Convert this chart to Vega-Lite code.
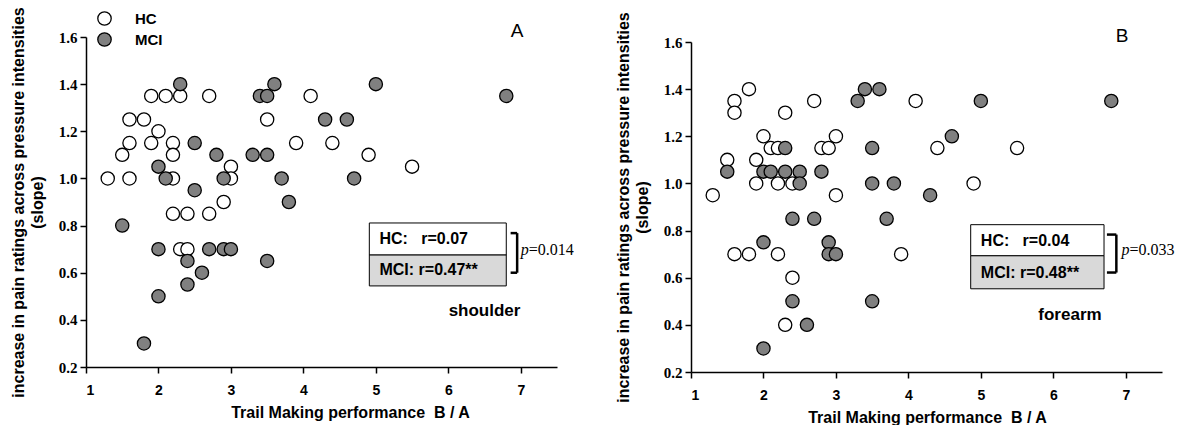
{
  "$schema": "https://vega.github.io/schema/vega-lite/v6.json",
  "padding": {"left": 10, "top": 6, "right": 0, "bottom": 0},
  "background": "white",
  "datasets": {
    "pts": [
      {"panel": "A", "group": "HC", "tmt": 1.3, "slope": 1.0},
      {"panel": "A", "group": "HC", "tmt": 1.6, "slope": 1.0},
      {"panel": "A", "group": "HC", "tmt": 1.5, "slope": 1.1},
      {"panel": "A", "group": "HC", "tmt": 1.6, "slope": 1.15},
      {"panel": "A", "group": "HC", "tmt": 1.6, "slope": 1.25},
      {"panel": "A", "group": "HC", "tmt": 1.8, "slope": 1.25},
      {"panel": "A", "group": "HC", "tmt": 1.9, "slope": 1.15},
      {"panel": "A", "group": "HC", "tmt": 2.0, "slope": 1.2},
      {"panel": "A", "group": "HC", "tmt": 1.9, "slope": 1.35},
      {"panel": "A", "group": "HC", "tmt": 2.1, "slope": 1.35},
      {"panel": "A", "group": "HC", "tmt": 2.3, "slope": 1.35},
      {"panel": "A", "group": "HC", "tmt": 2.7, "slope": 1.35},
      {"panel": "A", "group": "HC", "tmt": 2.2, "slope": 1.15},
      {"panel": "A", "group": "HC", "tmt": 2.2, "slope": 1.1},
      {"panel": "A", "group": "HC", "tmt": 2.2, "slope": 1.0},
      {"panel": "A", "group": "HC", "tmt": 3.0, "slope": 1.05},
      {"panel": "A", "group": "HC", "tmt": 3.0, "slope": 1.0},
      {"panel": "A", "group": "HC", "tmt": 3.5, "slope": 1.25},
      {"panel": "A", "group": "HC", "tmt": 3.9, "slope": 1.15},
      {"panel": "A", "group": "HC", "tmt": 4.1, "slope": 1.35},
      {"panel": "A", "group": "HC", "tmt": 4.4, "slope": 1.15},
      {"panel": "A", "group": "HC", "tmt": 4.9, "slope": 1.1},
      {"panel": "A", "group": "HC", "tmt": 5.5, "slope": 1.05},
      {"panel": "A", "group": "HC", "tmt": 2.2, "slope": 0.85},
      {"panel": "A", "group": "HC", "tmt": 2.4, "slope": 0.85},
      {"panel": "A", "group": "HC", "tmt": 2.7, "slope": 0.85},
      {"panel": "A", "group": "HC", "tmt": 2.9, "slope": 0.9},
      {"panel": "A", "group": "HC", "tmt": 2.3, "slope": 0.7},
      {"panel": "A", "group": "HC", "tmt": 2.4, "slope": 0.7},
      {"panel": "A", "group": "MCI", "tmt": 2.3, "slope": 1.4},
      {"panel": "A", "group": "MCI", "tmt": 2.0, "slope": 1.05},
      {"panel": "A", "group": "MCI", "tmt": 2.1, "slope": 1.0},
      {"panel": "A", "group": "MCI", "tmt": 2.5, "slope": 1.15},
      {"panel": "A", "group": "MCI", "tmt": 2.5, "slope": 0.95},
      {"panel": "A", "group": "MCI", "tmt": 2.8, "slope": 1.1},
      {"panel": "A", "group": "MCI", "tmt": 2.9, "slope": 1.0},
      {"panel": "A", "group": "MCI", "tmt": 3.3, "slope": 1.1},
      {"panel": "A", "group": "MCI", "tmt": 3.5, "slope": 1.1},
      {"panel": "A", "group": "MCI", "tmt": 3.4, "slope": 1.35},
      {"panel": "A", "group": "MCI", "tmt": 3.5, "slope": 1.35},
      {"panel": "A", "group": "MCI", "tmt": 3.6, "slope": 1.4},
      {"panel": "A", "group": "MCI", "tmt": 3.7, "slope": 1.0},
      {"panel": "A", "group": "MCI", "tmt": 3.8, "slope": 0.9},
      {"panel": "A", "group": "MCI", "tmt": 4.3, "slope": 1.25},
      {"panel": "A", "group": "MCI", "tmt": 4.6, "slope": 1.25},
      {"panel": "A", "group": "MCI", "tmt": 4.7, "slope": 1.0},
      {"panel": "A", "group": "MCI", "tmt": 5.0, "slope": 1.4},
      {"panel": "A", "group": "MCI", "tmt": 6.8, "slope": 1.35},
      {"panel": "A", "group": "MCI", "tmt": 1.5, "slope": 0.8},
      {"panel": "A", "group": "MCI", "tmt": 2.0, "slope": 0.7},
      {"panel": "A", "group": "MCI", "tmt": 2.4, "slope": 0.65},
      {"panel": "A", "group": "MCI", "tmt": 2.6, "slope": 0.6},
      {"panel": "A", "group": "MCI", "tmt": 2.4, "slope": 0.55},
      {"panel": "A", "group": "MCI", "tmt": 2.7, "slope": 0.7},
      {"panel": "A", "group": "MCI", "tmt": 2.9, "slope": 0.7},
      {"panel": "A", "group": "MCI", "tmt": 3.0, "slope": 0.7},
      {"panel": "A", "group": "MCI", "tmt": 2.0, "slope": 0.5},
      {"panel": "A", "group": "MCI", "tmt": 1.8, "slope": 0.3},
      {"panel": "A", "group": "MCI", "tmt": 3.5, "slope": 0.65},
      {"panel": "B", "group": "HC", "tmt": 1.3, "slope": 0.95},
      {"panel": "B", "group": "HC", "tmt": 1.5, "slope": 1.1},
      {"panel": "B", "group": "HC", "tmt": 1.6, "slope": 1.35},
      {"panel": "B", "group": "HC", "tmt": 1.6, "slope": 1.3},
      {"panel": "B", "group": "HC", "tmt": 1.8, "slope": 1.4},
      {"panel": "B", "group": "HC", "tmt": 1.9, "slope": 1.1},
      {"panel": "B", "group": "HC", "tmt": 1.9, "slope": 1.0},
      {"panel": "B", "group": "HC", "tmt": 2.0, "slope": 1.2},
      {"panel": "B", "group": "HC", "tmt": 2.1, "slope": 1.15},
      {"panel": "B", "group": "HC", "tmt": 2.2, "slope": 1.15},
      {"panel": "B", "group": "HC", "tmt": 2.2, "slope": 1.0},
      {"panel": "B", "group": "HC", "tmt": 2.3, "slope": 1.3},
      {"panel": "B", "group": "HC", "tmt": 2.4, "slope": 1.0},
      {"panel": "B", "group": "HC", "tmt": 2.7, "slope": 1.35},
      {"panel": "B", "group": "HC", "tmt": 2.8, "slope": 1.15},
      {"panel": "B", "group": "HC", "tmt": 2.9, "slope": 1.15},
      {"panel": "B", "group": "HC", "tmt": 3.0, "slope": 1.2},
      {"panel": "B", "group": "HC", "tmt": 3.0, "slope": 0.95},
      {"panel": "B", "group": "HC", "tmt": 4.1, "slope": 1.35},
      {"panel": "B", "group": "HC", "tmt": 4.4, "slope": 1.15},
      {"panel": "B", "group": "HC", "tmt": 5.5, "slope": 1.15},
      {"panel": "B", "group": "HC", "tmt": 4.9, "slope": 1.0},
      {"panel": "B", "group": "HC", "tmt": 1.6, "slope": 0.7},
      {"panel": "B", "group": "HC", "tmt": 1.8, "slope": 0.7},
      {"panel": "B", "group": "HC", "tmt": 2.2, "slope": 0.7},
      {"panel": "B", "group": "HC", "tmt": 2.4, "slope": 0.6},
      {"panel": "B", "group": "HC", "tmt": 2.3, "slope": 0.4},
      {"panel": "B", "group": "HC", "tmt": 3.9, "slope": 0.7},
      {"panel": "B", "group": "MCI", "tmt": 1.5, "slope": 1.05},
      {"panel": "B", "group": "MCI", "tmt": 2.0, "slope": 1.05},
      {"panel": "B", "group": "MCI", "tmt": 2.1, "slope": 1.05},
      {"panel": "B", "group": "MCI", "tmt": 2.3, "slope": 1.05},
      {"panel": "B", "group": "MCI", "tmt": 2.5, "slope": 1.05},
      {"panel": "B", "group": "MCI", "tmt": 2.5, "slope": 1.0},
      {"panel": "B", "group": "MCI", "tmt": 2.3, "slope": 1.15},
      {"panel": "B", "group": "MCI", "tmt": 2.8, "slope": 1.05},
      {"panel": "B", "group": "MCI", "tmt": 3.3, "slope": 1.35},
      {"panel": "B", "group": "MCI", "tmt": 3.4, "slope": 1.4},
      {"panel": "B", "group": "MCI", "tmt": 3.6, "slope": 1.4},
      {"panel": "B", "group": "MCI", "tmt": 3.5, "slope": 1.15},
      {"panel": "B", "group": "MCI", "tmt": 3.5, "slope": 1.0},
      {"panel": "B", "group": "MCI", "tmt": 3.8, "slope": 1.0},
      {"panel": "B", "group": "MCI", "tmt": 4.3, "slope": 0.95},
      {"panel": "B", "group": "MCI", "tmt": 2.4, "slope": 0.85},
      {"panel": "B", "group": "MCI", "tmt": 2.7, "slope": 0.85},
      {"panel": "B", "group": "MCI", "tmt": 3.7, "slope": 0.85},
      {"panel": "B", "group": "MCI", "tmt": 4.6, "slope": 1.2},
      {"panel": "B", "group": "MCI", "tmt": 5.0, "slope": 1.35},
      {"panel": "B", "group": "MCI", "tmt": 6.8, "slope": 1.35},
      {"panel": "B", "group": "MCI", "tmt": 2.0, "slope": 0.75},
      {"panel": "B", "group": "MCI", "tmt": 2.9, "slope": 0.75},
      {"panel": "B", "group": "MCI", "tmt": 2.9, "slope": 0.7},
      {"panel": "B", "group": "MCI", "tmt": 3.0, "slope": 0.7},
      {"panel": "B", "group": "MCI", "tmt": 2.4, "slope": 0.5},
      {"panel": "B", "group": "MCI", "tmt": 2.6, "slope": 0.4},
      {"panel": "B", "group": "MCI", "tmt": 2.0, "slope": 0.3},
      {"panel": "B", "group": "MCI", "tmt": 3.5, "slope": 0.5}
    ],
    "one": [{}]
  },
  "bounds": "flush",
  "spacing": 134,
  "resolve": {"legend": {"color": "independent"}},
  "hconcat": [
    {
      "width": 471,
      "height": 330,
      "layer": [
        {
          "data": {"name": "pts"},
          "transform": [{"filter": "datum.panel === 'A'"}],
          "mark": {"type": "point", "filled": true, "size": 175, "stroke": "black", "strokeWidth": 1.3, "opacity": 1},
          "encoding": {
            "x": {"field": "tmt", "type": "quantitative", "scale": {"domain": [1, 7.5], "nice": false, "zero": false},
              "axis": {"values": [1, 2, 3, 4, 5, 6, 7], "format": "d", "title": "Trail Making performance\u00a0\u00a0B / A", "titleX": 264, "titleY": 50, "titleBaseline": "alphabetic"}},
            "y": {"field": "slope", "type": "quantitative", "scale": {"domain": [0.2, 1.6], "nice": false, "zero": false},
              "axis": {"values": [0.2, 0.4, 0.6, 0.8, 1.0, 1.2, 1.4, 1.6], "format": ".1f", "title": ["increase in pain ratings across pressure intensities", "(slope)"]}},
            "color": {"field": "group", "type": "nominal", "scale": {"domain": ["HC", "MCI"], "range": ["white", "#808080"]},
              "legend": {"title": null, "orient": "none", "legendX": 11, "legendY": -26, "padding": 0, "symbolType": "circle", "symbolSize": 180, "symbolStrokeColor": "black", "symbolStrokeWidth": 1.3, "symbolOpacity": 1, "labelFont": "Liberation Sans", "labelFontWeight": "bold", "labelFontSize": 15, "labelColor": "black", "labelOffset": 23, "rowPadding": 2}}
          }
        },
        {
          "data": {"name": "one"},
          "mark": {"type": "rect", "fill": "white", "stroke": "black", "strokeWidth": 1},
          "encoding": {"x": {"datum": 4.91}, "x2": {"datum": 6.8}, "y": {"datum": 0.811}, "y2": {"datum": 0.675}}
        },
        {
          "data": {"name": "one"},
          "mark": {"type": "rect", "fill": "#d9d9d9", "stroke": "black", "strokeWidth": 1},
          "encoding": {"x": {"datum": 4.91}, "x2": {"datum": 6.8}, "y": {"datum": 0.675}, "y2": {"datum": 0.544}}
        },
        {
          "data": {"name": "one"},
          "mark": {"type": "text", "align": "left", "baseline": "middle", "font": "Liberation Sans", "fontWeight": "bold", "fontSize": 16, "color": "black"},
          "encoding": {"x": {"datum": 5.05}, "y": {"datum": 0.743}, "text": {"value": "HC:\u00a0\u00a0\u00a0r=0.07"}}
        },
        {
          "data": {"name": "one"},
          "mark": {"type": "text", "align": "left", "baseline": "middle", "font": "Liberation Sans", "fontWeight": "bold", "fontSize": 16, "color": "black"},
          "encoding": {"x": {"datum": 5.05}, "y": {"datum": 0.611}, "text": {"value": "MCI: r=0.47**"}}
        },
        {
          "data": {"name": "one"},
          "mark": {"type": "rule", "stroke": "black", "strokeWidth": 2.5},
          "encoding": {"x": {"datum": 6.95}, "y": {"datum": 0.768}, "y2": {"datum": 0.6}}
        },
        {
          "data": {"name": "one"},
          "mark": {"type": "rule", "stroke": "black", "strokeWidth": 2.5},
          "encoding": {"x": {"datum": 6.86}, "x2": {"datum": 6.95}, "y": {"datum": 0.768}}
        },
        {
          "data": {"name": "one"},
          "mark": {"type": "rule", "stroke": "black", "strokeWidth": 2.5},
          "encoding": {"x": {"datum": 6.86}, "x2": {"datum": 6.95}, "y": {"datum": 0.6}}
        },
        {
          "data": {"name": "one"},
          "mark": {"type": "text", "align": "left", "baseline": "middle", "font": "Liberation Serif", "fontStyle": "italic", "fontSize": 16, "color": "black"},
          "encoding": {"x": {"datum": 7.0}, "y": {"datum": 0.696}, "text": {"value": "p"}}
        },
        {
          "data": {"name": "one"},
          "mark": {"type": "text", "align": "left", "baseline": "middle", "font": "Liberation Serif", "fontSize": 16, "dx": 8, "color": "black"},
          "encoding": {"x": {"datum": 7.0}, "y": {"datum": 0.696}, "text": {"value": "=0.014"}}
        },
        {
          "data": {"name": "one"},
          "mark": {"type": "text", "align": "center", "baseline": "middle", "font": "Liberation Sans", "fontWeight": "bold", "fontSize": 17, "color": "black"},
          "encoding": {"x": {"datum": 6.5}, "y": {"datum": 0.437}, "text": {"value": "shoulder"}}
        },
        {
          "data": {"name": "one"},
          "mark": {"type": "text", "align": "center", "baseline": "middle", "font": "Liberation Sans", "fontSize": 19, "color": "black"},
          "encoding": {"x": {"datum": 6.95}, "y": {"datum": 1.625}, "text": {"value": "A"}}
        }
      ]
    },
    {
      "bounds": "flush",
      "spacing": 4,
      "vconcat": [
        {
          "width": 471,
          "height": 1,
          "data": {"name": "one"},
          "mark": {"type": "text", "text": ""},
          "encoding": {}
        },
        {
          "width": 471,
          "height": 330,
          "layer": [
            {
              "data": {"name": "pts"},
              "transform": [{"filter": "datum.panel === 'B'"}],
              "mark": {"type": "point", "filled": true, "size": 175, "stroke": "black", "strokeWidth": 1.3, "opacity": 1},
              "encoding": {
                "x": {"field": "tmt", "type": "quantitative", "scale": {"domain": [1, 7.5], "nice": false, "zero": false},
                  "axis": {"values": [1, 2, 3, 4, 5, 6, 7], "format": "d", "title": "Trail Making performance\u00a0\u00a0B / A", "titleX": 236, "titleY": 50, "titleBaseline": "alphabetic"}},
                "y": {"field": "slope", "type": "quantitative", "scale": {"domain": [0.2, 1.6], "nice": false, "zero": false},
                  "axis": {"values": [0.2, 0.4, 0.6, 0.8, 1.0, 1.2, 1.4, 1.6], "format": ".1f", "title": ["increase in pain ratings across pressure intensities", "(slope)"]}},
                "color": {"field": "group", "type": "nominal", "scale": {"domain": ["HC", "MCI"], "range": ["white", "#808080"]}, "legend": null}
              }
            },
            {
              "data": {"name": "one"},
              "mark": {"type": "rect", "fill": "white", "stroke": "black", "strokeWidth": 1},
              "encoding": {"x": {"datum": 4.86}, "x2": {"datum": 6.7}, "y": {"datum": 0.825}, "y2": {"datum": 0.693}}
            },
            {
              "data": {"name": "one"},
              "mark": {"type": "rect", "fill": "#d9d9d9", "stroke": "black", "strokeWidth": 1},
              "encoding": {"x": {"datum": 4.86}, "x2": {"datum": 6.7}, "y": {"datum": 0.693}, "y2": {"datum": 0.553}}
            },
            {
              "data": {"name": "one"},
              "mark": {"type": "text", "align": "left", "baseline": "middle", "font": "Liberation Sans", "fontWeight": "bold", "fontSize": 16, "color": "black"},
              "encoding": {"x": {"datum": 5.0}, "y": {"datum": 0.757}, "text": {"value": "HC:\u00a0\u00a0\u00a0r=0.04"}}
            },
            {
              "data": {"name": "one"},
              "mark": {"type": "text", "align": "left", "baseline": "middle", "font": "Liberation Sans", "fontWeight": "bold", "fontSize": 16, "color": "black"},
              "encoding": {"x": {"datum": 5.0}, "y": {"datum": 0.622}, "text": {"value": "MCI: r=0.48**"}}
            },
            {
              "data": {"name": "one"},
              "mark": {"type": "rule", "stroke": "black", "strokeWidth": 2.5},
              "encoding": {"x": {"datum": 6.87}, "y": {"datum": 0.783}, "y2": {"datum": 0.622}}
            },
            {
              "data": {"name": "one"},
              "mark": {"type": "rule", "stroke": "black", "strokeWidth": 2.5},
              "encoding": {"x": {"datum": 6.74}, "x2": {"datum": 6.87}, "y": {"datum": 0.783}}
            },
            {
              "data": {"name": "one"},
              "mark": {"type": "rule", "stroke": "black", "strokeWidth": 2.5},
              "encoding": {"x": {"datum": 6.74}, "x2": {"datum": 6.87}, "y": {"datum": 0.622}}
            },
            {
              "data": {"name": "one"},
              "mark": {"type": "text", "align": "left", "baseline": "middle", "font": "Liberation Serif", "fontStyle": "italic", "fontSize": 16, "color": "black"},
              "encoding": {"x": {"datum": 6.94}, "y": {"datum": 0.718}, "text": {"value": "p"}}
            },
            {
              "data": {"name": "one"},
              "mark": {"type": "text", "align": "left", "baseline": "middle", "font": "Liberation Serif", "fontSize": 16, "dx": 8, "color": "black"},
              "encoding": {"x": {"datum": 6.94}, "y": {"datum": 0.718}, "text": {"value": "=0.033"}}
            },
            {
              "data": {"name": "one"},
              "mark": {"type": "text", "align": "center", "baseline": "middle", "font": "Liberation Sans", "fontWeight": "bold", "fontSize": 17, "color": "black"},
              "encoding": {"x": {"datum": 6.23}, "y": {"datum": 0.44}, "text": {"value": "forearm"}}
            },
            {
              "data": {"name": "one"},
              "mark": {"type": "text", "align": "center", "baseline": "middle", "font": "Liberation Sans", "fontSize": 19, "color": "black"},
              "encoding": {"x": {"datum": 6.95}, "y": {"datum": 1.625}, "text": {"value": "B"}}
            }
          ]
        }
      ]
    }
  ],
  "config": {
    "view": {"stroke": null},
    "axis": {
      "grid": false,
      "domainColor": "black",
      "domainWidth": 1.5,
      "tickColor": "black",
      "tickWidth": 1.5,
      "tickSize": 6
    },
    "axisX": {
      "labelFont": "Liberation Sans",
      "labelFontWeight": "bold",
      "labelFontSize": 14,
      "labelColor": "black",
      "labelPadding": 10,
      "titleFont": "Liberation Sans",
      "titleFontWeight": "bold",
      "titleFontSize": 16,
      "titleColor": "black"
    },
    "axisY": {
      "labelFont": "Liberation Serif",
      "labelFontWeight": "bold",
      "labelFontSize": 15,
      "labelColor": "black",
      "labelPadding": 3,
      "titleFont": "Liberation Sans",
      "titleFontWeight": "bold",
      "titleFontSize": 16,
      "titleLineHeight": 19,
      "titleColor": "black",
      "titlePadding": 13
    }
  }
}
